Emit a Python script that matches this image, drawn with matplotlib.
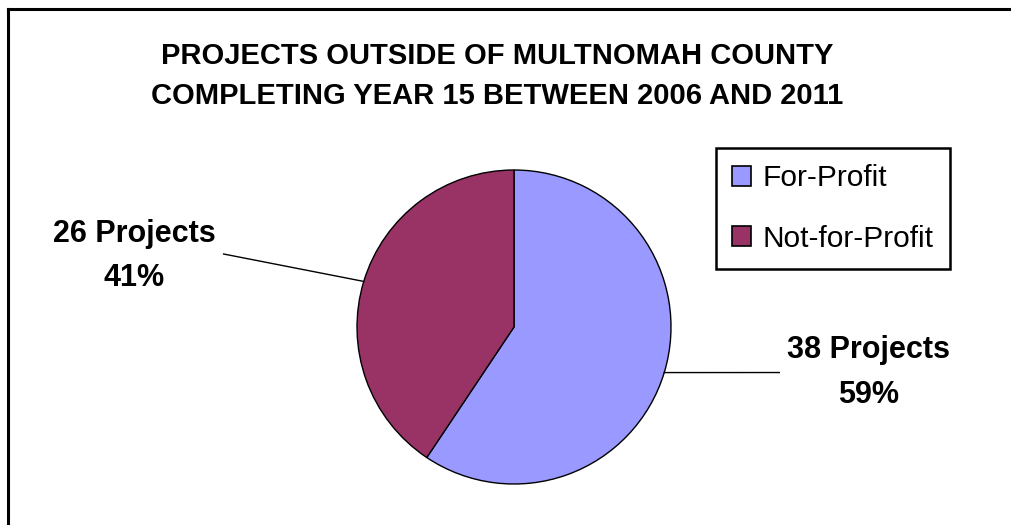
import numpy as np
import matplotlib
matplotlib.use('Agg')
import matplotlib.pyplot as plt
from matplotlib.lines import Line2D
from matplotlib.patches import Patch

# data
categories = ['For-Profit', 'Not-for-Profit']
projects = [38, 26]
percent_labels = ['59%', '41%']
colors = ['#9999FF', '#993366']

plt.rcParams['font.family'] = ['Liberation Sans', 'DejaVu Sans']

W, H = 1012, 525
fig = plt.figure(figsize=(W / 100, H / 100), dpi=100)

# frame: only top and left edges visible
fig.add_artist(Line2D([8 / W, 8 / W], [0, 1 - 9 / H], transform=fig.transFigure,
                      color='black', lw=2.2))
fig.add_artist(Line2D([8 / W, 1], [1 - 9 / H, 1 - 9 / H], transform=fig.transFigure,
                      color='black', lw=2.2))

fig.text(497 / W, 1 - 76 / H,
         'PROJECTS OUTSIDE OF MULTNOMAH COUNTY\nCOMPLETING YEAR 15 BETWEEN 2006 AND 2011',
         ha='center', va='center', fontsize=21, fontweight='bold', linespacing=1.55)

# pie axes: centre (514, 327), radius 157 px
cx, cy, r = 514, 327, 157
ax = fig.add_axes([(cx - r) / W, (H - cy - r) / H, 2 * r / W, 2 * r / H])
wedges, _ = ax.pie(projects, colors=colors, startangle=90, counterclock=False,
                   wedgeprops=dict(edgecolor='black', linewidth=1.0))
ax.set_xlim(-1, 1)
ax.set_ylim(-1, 1)
ax.set_aspect('equal')
ax.axis('off')

# labels with leader lines
label_pos = [(2.26, -0.29), (-2.42, 0.45)]
line_end = [(1.69, -0.29), (-1.85, 0.465)]
for w, n, pct, tp, le in zip(wedges, projects, percent_labels, label_pos, line_end):
    ang = np.deg2rad((w.theta1 + w.theta2) / 2)
    x0, y0 = np.cos(ang), np.sin(ang)
    ax.plot([x0, le[0]], [y0, le[1]], color='black', lw=1.0, clip_on=False)
    ax.text(tp[0], tp[1], f'{n} Projects\n{pct}', ha='center', va='center',
            fontsize=22, fontweight='bold', linespacing=1.62, clip_on=False)

handles = [Patch(facecolor=c, edgecolor='black', linewidth=1.2) for c in colors]
leg = fig.legend(handles, categories, loc='upper left',
                 bbox_to_anchor=(716 / W, 1 - 148 / H), borderaxespad=0,
                 fancybox=False, edgecolor='black', fontsize=21.5,
                 handlelength=0.62, handleheight=0.62, handletextpad=0.4,
                 labelspacing=1.08, borderpad=0.55, framealpha=1)
leg.get_frame().set_linewidth(1.8)

fig.savefig('out.png', dpi=100)
